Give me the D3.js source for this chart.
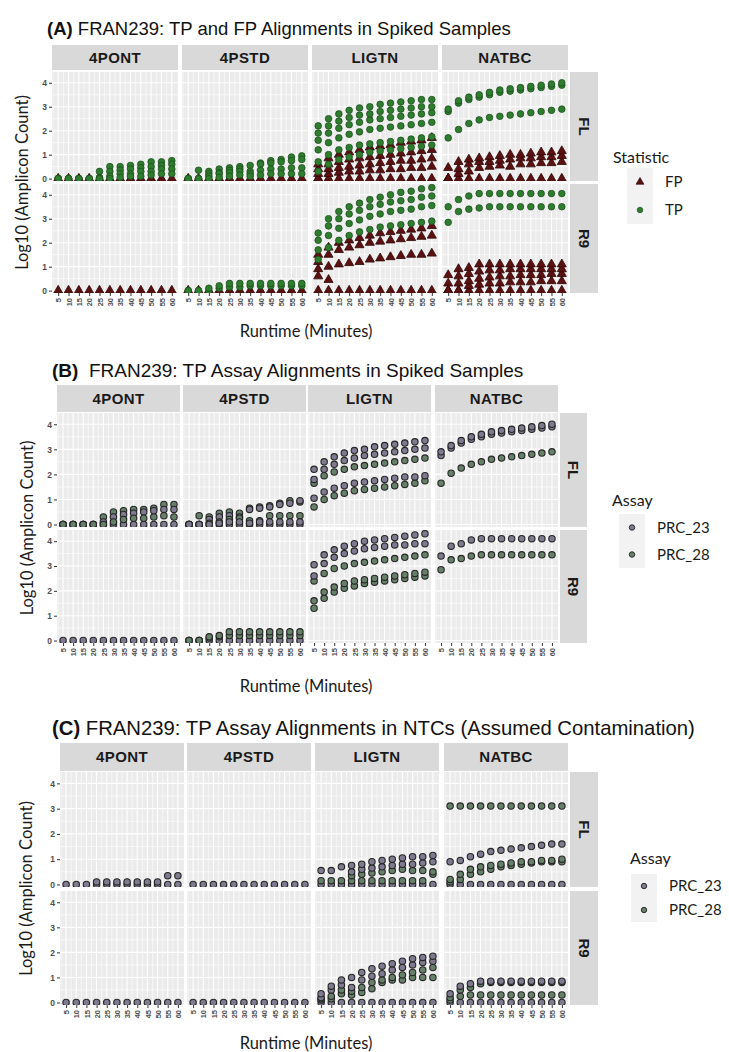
<!DOCTYPE html>
<html>
<head>
<meta charset="utf-8">
<script src="https://cdn.jsdelivr.net/npm/d3@7"></script>
<style>
  body { margin: 0; background: #fff; }
  svg { display: block; }
</style>
</head>
<body>
<svg id="chart"></svg>
<script>
const width = 729;
const height = 1052;

// DATA
const runtimes = [5, 10, 15, 20, 25, 30, 35, 40, 45, 50, 55, 60];
const sites = ['4PONT', '4PSTD', 'LIGTN', 'NATBC'];
const platforms = ['FL', 'R9'];
const yTicks = [0, 1, 2, 3, 4];
const statistics = ['FP', 'TP'];
const assays = ['PRC_23', 'PRC_28'];

// [site, platform, group, log10 count at each runtime]
const seriesA = [
  ['4PONT', 'FL', 'FP', [0, 0, 0, 0, 0, 0, 0, 0, 0, 0, 0, 0]],
  ['4PONT', 'FL', 'TP', [0, 0, 0, 0, 0.3, 0.5, 0.5, 0.55, 0.6, 0.7, 0.7, 0.75]],
  ['4PONT', 'FL', 'TP', [0, 0, 0, 0, 0.05, 0.3, 0.35, 0.4, 0.45, 0.5, 0.55, 0.6]],
  ['4PONT', 'FL', 'TP', [0, 0, 0, 0, 0, 0.1, 0.2, 0.2, 0.3, 0.3, 0.4, 0.4]],
  ['4PONT', 'FL', 'TP', [0, 0, 0, 0, 0, 0, 0.05, 0.1, 0.1, 0.15, 0.2, 0.2]],
  ['4PSTD', 'FL', 'FP', [0, 0, 0, 0, 0, 0, 0, 0, 0, 0, 0, 0]],
  ['4PSTD', 'FL', 'TP', [0, 0.35, 0.3, 0.4, 0.45, 0.5, 0.55, 0.65, 0.75, 0.8, 0.9, 0.95]],
  ['4PSTD', 'FL', 'TP', [0, 0, 0.2, 0.25, 0.35, 0.4, 0.3, 0.6, 0.65, 0.7, 0.75, 0.8]],
  ['4PSTD', 'FL', 'TP', [0, 0, 0.1, 0.2, 0.25, 0.3, 0.2, 0.35, 0.4, 0.4, 0.45, 0.45]],
  ['4PSTD', 'FL', 'TP', [0, 0, 0, 0.05, 0.1, 0.15, 0.1, 0.15, 0.2, 0.2, 0.2, 0.2]],
  ['LIGTN', 'FL', 'FP', [0, 0, 0, 0, 0, 0, 0, 0, 0, 0, 0, 0]],
  ['LIGTN', 'FL', 'FP', [0, 0.2, 0.25, 0.3, 0.3, 0.35, 0.35, 0.4, 0.4, 0.45, 0.45, 0.5]],
  ['LIGTN', 'FL', 'FP', [0.2, 0.4, 0.45, 0.5, 0.55, 0.6, 0.65, 0.7, 0.75, 0.75, 0.8, 0.85]],
  ['LIGTN', 'FL', 'FP', [0.4, 0.6, 0.7, 0.8, 0.85, 0.9, 0.95, 1.0, 1.05, 1.1, 1.15, 1.2]],
  ['LIGTN', 'FL', 'FP', [0.6, 0.85, 1.0, 1.1, 1.2, 1.3, 1.35, 1.4, 1.5, 1.55, 1.6, 1.7]],
  ['LIGTN', 'FL', 'TP', [0.3, 0.6, 0.8, 0.9, 1.0, 1.1, 1.15, 1.2, 1.25, 1.3, 1.35, 1.4]],
  ['LIGTN', 'FL', 'TP', [0.7, 1.0, 1.2, 1.3, 1.4, 1.45, 1.5, 1.55, 1.6, 1.65, 1.7, 1.75]],
  ['LIGTN', 'FL', 'TP', [1.2, 1.5, 1.7, 1.85, 1.95, 2.05, 2.1, 2.15, 2.2, 2.25, 2.3, 2.35]],
  ['LIGTN', 'FL', 'TP', [1.6, 1.9, 2.1, 2.25, 2.35, 2.45, 2.5, 2.55, 2.6, 2.65, 2.7, 2.75]],
  ['LIGTN', 'FL', 'TP', [1.9, 2.2, 2.4, 2.55, 2.65, 2.7, 2.8, 2.85, 2.9, 2.95, 3.0, 3.0]],
  ['LIGTN', 'FL', 'TP', [2.2, 2.5, 2.7, 2.85, 2.95, 3.0, 3.1, 3.15, 3.2, 3.25, 3.3, 3.3]],
  ['NATBC', 'FL', 'FP', [0, 0, 0, 0, 0, 0, 0, 0, 0, 0, 0, 0]],
  ['NATBC', 'FL', 'FP', [0, 0.2, 0.3, 0.45, 0.5, 0.55, 0.5, 0.6, 0.6, 0.65, 0.65, 0.7]],
  ['NATBC', 'FL', 'FP', [0, 0.4, 0.6, 0.7, 0.7, 0.75, 0.8, 0.85, 0.85, 0.9, 0.9, 0.95]],
  ['NATBC', 'FL', 'FP', [0.45, 0.7, 0.8, 0.85, 0.9, 0.95, 1.0, 1.0, 1.05, 1.1, 1.1, 1.15]],
  ['NATBC', 'FL', 'TP', [1.7, 2.05, 2.3, 2.45, 2.55, 2.6, 2.65, 2.7, 2.75, 2.8, 2.85, 2.9]],
  ['NATBC', 'FL', 'TP', [2.8, 3.15, 3.3, 3.4, 3.5, 3.6, 3.65, 3.7, 3.75, 3.8, 3.85, 3.9]],
  ['NATBC', 'FL', 'TP', [2.9, 3.25, 3.4, 3.5, 3.6, 3.7, 3.75, 3.8, 3.85, 3.9, 3.95, 4.0]],
  ['4PONT', 'R9', 'FP', [0, 0, 0, 0, 0, 0, 0, 0, 0, 0, 0, 0]],
  ['4PSTD', 'R9', 'FP', [0, 0, 0, 0, 0, 0, 0, 0, 0, 0, 0, 0]],
  ['4PSTD', 'R9', 'TP', [0, 0, 0, 0.1, 0.15, 0.15, 0.2, 0.2, 0.2, 0.2, 0.2, 0.2]],
  ['4PSTD', 'R9', 'TP', [0, 0, 0.1, 0.2, 0.3, 0.3, 0.3, 0.3, 0.3, 0.3, 0.3, 0.3]],
  ['LIGTN', 'R9', 'FP', [0, 0, 0, 0, 0, 0, 0, 0, 0, 0, 0, 0]],
  ['LIGTN', 'R9', 'FP', [0.6, 0.45, null, null, null, null, null, null, null, null, null, null]],
  ['LIGTN', 'R9', 'FP', [0.9, 1.0, 1.1, 1.15, 1.2, 1.3, 1.35, 1.4, 1.45, 1.5, 1.5, 1.55]],
  ['LIGTN', 'R9', 'FP', [1.2, 1.5, 1.7, 1.8, 1.9, 2.0, 2.05, 2.1, 2.15, 2.2, 2.25, 2.3]],
  ['LIGTN', 'R9', 'FP', [1.5, 1.8, 2.0, 2.1, 2.2, 2.3, 2.4, 2.45, 2.5, 2.55, 2.6, 2.7]],
  ['LIGTN', 'R9', 'TP', [1.3, 1.8, 2.1, 2.3, 2.45, 2.55, 2.65, 2.7, 2.75, 2.8, 2.85, 2.9]],
  ['LIGTN', 'R9', 'TP', [1.7, 2.3, 2.6, 2.8, 2.95, 3.1, 3.2, 3.3, 3.35, 3.4, 3.5, 3.55]],
  ['LIGTN', 'R9', 'TP', [2.1, 2.7, 3.0, 3.2, 3.35, 3.5, 3.6, 3.7, 3.75, 3.8, 3.9, 3.95]],
  ['LIGTN', 'R9', 'TP', [2.4, 3.0, 3.3, 3.5, 3.65, 3.8, 3.9, 4.0, 4.1, 4.15, 4.25, 4.3]],
  ['NATBC', 'R9', 'FP', [0, 0, 0, 0, 0, 0, 0, 0, 0, 0, 0, 0]],
  ['NATBC', 'R9', 'FP', [0, 0, 0.2, 0.25, 0.3, 0.3, 0.35, 0.35, 0.35, 0.4, 0.4, 0.4]],
  ['NATBC', 'R9', 'FP', [0, 0.3, 0.4, 0.5, 0.55, 0.6, 0.6, 0.65, 0.65, 0.65, 0.7, 0.7]],
  ['NATBC', 'R9', 'FP', [0.3, 0.6, 0.7, 0.8, 0.85, 0.85, 0.9, 0.9, 0.9, 0.9, 0.9, 0.9]],
  ['NATBC', 'R9', 'FP', [0.65, 0.9, 0.95, 1.1, 1.1, 1.1, 1.1, 1.1, 1.1, 1.1, 1.1, 1.1]],
  ['NATBC', 'R9', 'TP', [2.85, 3.3, 3.4, 3.45, 3.5, 3.5, 3.5, 3.5, 3.5, 3.5, 3.5, 3.5]],
  ['NATBC', 'R9', 'TP', [3.5, 3.8, 3.95, 4.05, 4.05, 4.05, 4.05, 4.05, 4.05, 4.05, 4.05, 4.05]]
];

const seriesB = [
  ['4PONT', 'FL', 'PRC_23', [0, 0, 0, 0, 0, 0, 0, 0, 0, 0, 0, 0]],
  ['4PONT', 'FL', 'PRC_28', [0, 0, 0, 0, 0.3, 0.5, 0.55, 0.6, 0.6, 0.65, 0.8, 0.8]],
  ['4PONT', 'FL', 'PRC_23', [0, 0, 0, 0, 0.1, 0.3, 0.4, 0.45, 0.5, 0.55, 0.6, 0.6]],
  ['4PONT', 'FL', 'PRC_28', [0, 0, 0, 0, 0, 0.1, 0.2, 0.25, 0.25, 0.3, 0.35, 0.3]],
  ['4PSTD', 'FL', 'PRC_23', [0, 0, 0, 0, 0, 0, 0, 0, 0, 0, 0, 0]],
  ['4PSTD', 'FL', 'PRC_28', [0, 0.35, 0.3, 0.45, 0.5, 0.45, 0.65, 0.7, 0.75, 0.85, 0.95, 0.9]],
  ['4PSTD', 'FL', 'PRC_23', [0, 0, 0.2, 0.3, 0.35, 0.3, 0.6, 0.65, 0.7, 0.8, 0.85, 0.95]],
  ['4PSTD', 'FL', 'PRC_28', [0, 0, 0.05, 0.1, 0.2, 0.25, 0.15, 0.15, 0.35, 0.35, 0.35, 0.35]],
  ['4PSTD', 'FL', 'PRC_23', [0, 0, 0, 0.05, 0.1, 0.1, 0.05, 0.1, 0.1, 0.1, 0.1, 0.1]],
  ['LIGTN', 'FL', 'PRC_28', [0.7, 1.0, 1.15, 1.25, 1.35, 1.4, 1.45, 1.5, 1.55, 1.6, 1.65, 1.75]],
  ['LIGTN', 'FL', 'PRC_23', [1.05, 1.3, 1.45, 1.55, 1.65, 1.7, 1.75, 1.8, 1.85, 1.9, 1.9, 1.95]],
  ['LIGTN', 'FL', 'PRC_28', [1.65, 1.95, 2.1, 2.2, 2.3, 2.35, 2.4, 2.45, 2.5, 2.55, 2.6, 2.65]],
  ['LIGTN', 'FL', 'PRC_23', [1.8, 2.2, 2.4, 2.55, 2.65, 2.75, 2.8, 2.85, 2.9, 2.95, 3.0, 3.05]],
  ['LIGTN', 'FL', 'PRC_23', [2.2, 2.5, 2.7, 2.85, 2.95, 3.0, 3.1, 3.15, 3.2, 3.25, 3.3, 3.35]],
  ['NATBC', 'FL', 'PRC_28', [1.65, 2.05, 2.25, 2.4, 2.5, 2.6, 2.65, 2.7, 2.75, 2.8, 2.85, 2.9]],
  ['NATBC', 'FL', 'PRC_23', [2.75, 3.05, 3.25, 3.4, 3.5, 3.6, 3.65, 3.7, 3.75, 3.8, 3.85, 3.9]],
  ['NATBC', 'FL', 'PRC_23', [2.9, 3.15, 3.35, 3.5, 3.6, 3.7, 3.75, 3.8, 3.85, 3.9, 3.95, 4.0]],
  ['4PONT', 'R9', 'PRC_23', [0, 0, 0, 0, 0, 0, 0, 0, 0, 0, 0, 0]],
  ['4PSTD', 'R9', 'PRC_23', [0, 0, 0, 0, 0, 0, 0, 0, 0, 0, 0, 0]],
  ['4PSTD', 'R9', 'PRC_28', [0, 0, 0.1, 0.15, 0.2, 0.2, 0.2, 0.2, 0.2, 0.2, 0.2, 0.2]],
  ['4PSTD', 'R9', 'PRC_28', [0, 0, 0.15, 0.2, 0.35, 0.35, 0.35, 0.35, 0.35, 0.35, 0.35, 0.35]],
  ['LIGTN', 'R9', 'PRC_28', [1.3, 1.7, 1.95, 2.1, 2.2, 2.3, 2.35, 2.4, 2.45, 2.5, 2.55, 2.6]],
  ['LIGTN', 'R9', 'PRC_28', [1.6, 1.95, 2.15, 2.3, 2.4, 2.45, 2.5, 2.55, 2.6, 2.65, 2.7, 2.75]],
  ['LIGTN', 'R9', 'PRC_28', [2.4, 2.7, 2.9, 3.0, 3.1, 3.15, 3.2, 3.25, 3.3, 3.35, 3.4, 3.45]],
  ['LIGTN', 'R9', 'PRC_23', [2.6, 3.1, 3.35, 3.5, 3.6, 3.7, 3.75, 3.8, 3.85, 3.85, 3.9, 3.9]],
  ['LIGTN', 'R9', 'PRC_23', [3.05, 3.45, 3.65, 3.8, 3.9, 4.0, 4.05, 4.1, 4.15, 4.2, 4.25, 4.3]],
  ['NATBC', 'R9', 'PRC_28', [2.85, 3.25, 3.3, 3.4, 3.45, 3.45, 3.45, 3.45, 3.45, 3.45, 3.45, 3.45]],
  ['NATBC', 'R9', 'PRC_23', [3.4, 3.8, 3.9, 4.05, 4.1, 4.1, 4.1, 4.1, 4.1, 4.1, 4.1, 4.1]]
];

const seriesC = [
  ['4PONT', 'FL', 'PRC_23', [0, 0, 0, 0, 0, 0, 0, 0, 0, 0, 0, 0]],
  ['4PONT', 'FL', 'PRC_23', [null, null, null, 0.1, 0.1, 0.1, 0.1, 0.1, 0.1, 0.1, 0.35, 0.35]],
  ['4PSTD', 'FL', 'PRC_23', [0, 0, 0, 0, 0, 0, 0, 0, 0, 0, 0, 0]],
  ['LIGTN', 'FL', 'PRC_23', [0, 0, 0, 0, 0, 0, 0, 0, 0, 0, 0, 0]],
  ['LIGTN', 'FL', 'PRC_28', [0.15, 0.15, 0.15, 0.15, 0.15, 0.15, 0.15, 0.15, 0.15, 0.15, 0.15, 0.4]],
  ['LIGTN', 'FL', 'PRC_28', [null, null, null, 0.35, 0.4, 0.45, 0.5, 0.55, 0.6, 0.55, 0.55, 0.5]],
  ['LIGTN', 'FL', 'PRC_23', [null, null, null, 0.5, 0.6, 0.65, 0.7, 0.75, 0.8, 0.8, 0.85, 0.9]],
  ['LIGTN', 'FL', 'PRC_23', [0.55, 0.55, 0.7, 0.75, 0.8, 0.9, 0.95, 1.0, 1.05, 1.1, 1.1, 1.15]],
  ['NATBC', 'FL', 'PRC_23', [0, 0, 0, 0, 0, 0, 0, 0, 0, 0, 0, 0]],
  ['NATBC', 'FL', 'PRC_28', [0.1, 0.2, 0.4, 0.5, 0.6, 0.7, 0.75, 0.8, 0.85, 0.9, 0.9, 0.9]],
  ['NATBC', 'FL', 'PRC_28', [0.2, 0.4, 0.6, 0.7, 0.75, 0.8, 0.85, 0.9, 0.9, 0.95, 0.95, 1.0]],
  ['NATBC', 'FL', 'PRC_23', [0.9, 0.95, 1.1, 1.2, 1.3, 1.35, 1.4, 1.45, 1.5, 1.55, 1.6, 1.6]],
  ['NATBC', 'FL', 'PRC_28', [3.1, 3.1, 3.1, 3.1, 3.1, 3.1, 3.1, 3.1, 3.1, 3.1, 3.1, 3.1]],
  ['4PONT', 'R9', 'PRC_23', [0, 0, 0, 0, 0, 0, 0, 0, 0, 0, 0, 0]],
  ['4PSTD', 'R9', 'PRC_23', [0, 0, 0, 0, 0, 0, 0, 0, 0, 0, 0, 0]],
  ['LIGTN', 'R9', 'PRC_23', [0, 0, 0, 0, 0, 0, 0, 0, 0, 0, 0, 0]],
  ['LIGTN', 'R9', 'PRC_28', [0.1, 0.15, 0.35, 0.3, 0.4, 0.55, 0.8, 0.9, 0.9, 1.0, 1.0, 1.0]],
  ['LIGTN', 'R9', 'PRC_28', [0.15, 0.25, 0.5, 0.45, 0.6, 0.8, 0.9, 1.0, 1.1, 1.2, 1.3, 1.4]],
  ['LIGTN', 'R9', 'PRC_23', [0.2, 0.5, 0.7, 0.6, 0.9, 1.05, 1.15, 1.3, 1.4, 1.5, 1.6, 1.65]],
  ['LIGTN', 'R9', 'PRC_23', [0.35, 0.65, 0.9, 1.0, 1.2, 1.35, 1.45, 1.55, 1.65, 1.75, 1.8, 1.85]],
  ['NATBC', 'R9', 'PRC_23', [0, 0, 0, 0, 0, 0, 0, 0, 0, 0, 0, 0]],
  ['NATBC', 'R9', 'PRC_28', [0.1, 0.25, 0.3, 0.3, 0.3, 0.3, 0.3, 0.3, 0.3, 0.3, 0.3, 0.3]],
  ['NATBC', 'R9', 'PRC_28', [0.2, 0.5, 0.6, 0.75, 0.8, 0.8, 0.8, 0.8, 0.8, 0.8, 0.8, 0.8]],
  ['NATBC', 'R9', 'PRC_23', [0.35, 0.65, 0.75, 0.85, 0.85, 0.85, 0.85, 0.85, 0.85, 0.85, 0.85, 0.85]]
];

// LAYOUT per block
const blocks = [
  { letter: '(A)', title: ' FRAN239: TP and FP Alignments in Spiked Samples', titleX: 47, titleY: 35, titleSize: 18.5,
    stripY: 45, stripH: 25, rows: [[72, 181], [184, 293]], colX: [52, 182, 312, 442], colW: 126,
    rStripX: 570, rStripW: 28, yTitleX: 22, xTitleY: 337,
    legend: { title: 'Statistic', x: 613, titleY: 163, keyX: 627, keyY: 168, keyH: 28, groups: statistics },
    series: seriesA, kind: 'stat' },
  { letter: '(B)', title: '\u00a0 FRAN239: TP Assay Alignments in Spiked Samples', titleX: 52, titleY: 377, titleSize: 19,
    stripY: 385, stripH: 27, rows: [[413, 527], [530, 643]], colX: [57, 183, 308, 435], colW: 123,
    rStripX: 560, rStripW: 27, yTitleX: 27, xTitleY: 692,
    legend: { title: 'Assay', x: 612, titleY: 506, keyX: 619, keyY: 514, keyH: 27, groups: assays },
    series: seriesB, kind: 'assay' },
  { letter: '(C)', title: ' FRAN239: TP Assay Alignments in NTCs (Assumed Contamination)', titleX: 52, titleY: 735, titleSize: 20.3,
    stripY: 743, stripH: 28, rows: [[772, 887], [891, 1005]], colX: [60, 187, 315, 444], colW: 124,
    rStripX: 570, rStripW: 28, yTitleX: 26, xTitleY: 1049,
    legend: { title: 'Assay', x: 630, titleY: 864, keyX: 631, keyY: 874, keyH: 24, groups: assays },
    series: seriesC, kind: 'assay' }
];

const yDomain = [-0.1, 4.45];
const statFill = { FP: '#5b1111', TP: '#2f7d2f' };
const statStroke = { FP: '#2e0606', TP: '#1d4f1d' };
const assayFill = { PRC_23: '#7f7a90', PRC_28: '#66806a' };
const labelFont = 'Lato, "Open Sans", sans-serif';

const svg = d3.select('#chart')
  .attr('width', width)
  .attr('height', height)
  .style('font-family', '"Liberation Sans", Arial, sans-serif');

const triangle = d3.symbol().type(d3.symbolTriangle).size(36);

function drawPoint(sel, group, kind) {
  if (kind === 'stat' && group === 'FP') {
    sel.append('path')
      .attr('d', triangle)
      .attr('fill', statFill.FP)
      .attr('stroke', statStroke.FP)
      .attr('stroke-width', 0.8);
  } else if (kind === 'stat') {
    sel.append('circle')
      .attr('r', 3.3)
      .attr('fill', statFill.TP)
      .attr('stroke', statStroke.TP)
      .attr('stroke-width', 0.8);
  } else {
    sel.append('circle')
      .attr('r', 3.2)
      .attr('fill', assayFill[group])
      .attr('stroke', '#262626')
      .attr('stroke-width', 1.1);
  }
}

blocks.forEach((b, bi) => {
  const g = svg.append('g');

  // TITLE
  const t = g.append('text')
    .attr('x', b.titleX)
    .attr('y', b.titleY)
    .style('font-size', b.titleSize + 'px')
    .style('fill', '#111');
  t.append('tspan').style('font-weight', 'bold').text(b.letter);
  t.append('tspan').text(b.title);

  const x = d3.scalePoint().domain(runtimes).padding(0.6);

  sites.forEach((site, ci) => {
    const x0 = b.colX[ci];
    x.range([x0, x0 + b.colW]);
    const step = x.step();

    // column strip
    g.append('rect')
      .attr('x', x0).attr('y', b.stripY)
      .attr('width', b.colW).attr('height', b.stripH)
      .attr('fill', '#d9d9d9');
    g.append('text')
      .attr('x', x0 + b.colW / 2)
      .attr('y', b.stripY + b.stripH / 2)
      .attr('dy', '0.36em')
      .style('text-anchor', 'middle')
      .style('font-weight', 'bold')
      .style('font-size', '15px')
      .style('letter-spacing', '0.4px')
      .style('fill', '#1a1a1a')
      .text(site);

    platforms.forEach((pf, ri) => {
      const [y0, y1] = b.rows[ri];
      const y = d3.scaleLinear().domain(yDomain).range([y1, y0]);
      const clipId = `clip-${bi}-${ci}-${ri}`;

      g.append('clipPath').attr('id', clipId)
        .append('rect')
        .attr('x', x0).attr('y', y0)
        .attr('width', b.colW).attr('height', y1 - y0);

      const p = g.append('g');
      p.append('rect')
        .attr('x', x0).attr('y', y0)
        .attr('width', b.colW).attr('height', y1 - y0)
        .attr('fill', '#ebebeb');

      // GRIDS
      const minorY = [0.5, 1.5, 2.5, 3.5];
      p.selectAll(null).data(minorY).enter().append('line')
        .attr('x1', x0).attr('x2', x0 + b.colW)
        .attr('y1', d => y(d)).attr('y2', d => y(d))
        .attr('stroke', '#fff').attr('stroke-width', 0.6);
      p.selectAll(null).data(yTicks).enter().append('line')
        .attr('x1', x0).attr('x2', x0 + b.colW)
        .attr('y1', d => y(d)).attr('y2', d => y(d))
        .attr('stroke', '#fff').attr('stroke-width', 1.1);
      p.selectAll(null).data(runtimes).enter().append('line')
        .attr('x1', d => x(d) - step / 2).attr('x2', d => x(d) - step / 2)
        .attr('y1', y0).attr('y2', y1)
        .attr('stroke', '#fff').attr('stroke-width', 0.6);
      p.selectAll(null).data(runtimes).enter().append('line')
        .attr('x1', d => x(d)).attr('x2', d => x(d))
        .attr('y1', y0).attr('y2', y1)
        .attr('stroke', '#fff').attr('stroke-width', 1.1);

      // POINTS
      const pts = [];
      b.series.filter(s => s[0] === site && s[1] === pf).forEach(s => {
        s[3].forEach((v, i) => {
          if (v !== null) pts.push({ t: runtimes[i], v: v, group: s[2] });
        });
      });
      const pg = p.append('g').attr('clip-path', `url(#${clipId})`);
      pg.selectAll('g.pt')
        .data(pts)
        .enter()
        .append('g')
          .attr('class', 'pt')
          .attr('transform', d => `translate(${x(d.t)},${y(d.v)})`)
          .each(function (d) { drawPoint(d3.select(this), d.group, b.kind); });

      // Y AXIS
      if (ci === 0) {
        const ya = g.append('g')
          .attr('transform', `translate(${x0},0)`)
          .call(d3.axisLeft(y).tickValues(yTicks).tickSize(3).tickPadding(2).tickFormat(d3.format('d')));
        ya.select('.domain').remove();
        ya.selectAll('line').attr('stroke', '#333');
        ya.selectAll('text').style('font-size', '8.5px').style('font-weight', 'bold')
          .style('fill', '#4d4d4d').style('font-family', '"Liberation Sans", Arial, sans-serif');
      }

      // X AXIS
      if (ri === 1) {
        const xa = g.append('g')
          .attr('transform', `translate(0,${y1})`)
          .call(d3.axisBottom(x).tickSize(3).tickPadding(2));
        xa.select('.domain').remove();
        xa.selectAll('line').attr('stroke', '#333');
        xa.selectAll('text')
          .attr('transform', 'rotate(-90)')
          .attr('x', -5).attr('y', 0).attr('dy', '0.35em')
          .style('text-anchor', 'end')
          .style('font-size', '7.5px').style('font-weight', 'bold')
          .style('fill', '#4d4d4d').style('font-family', '"Liberation Sans", Arial, sans-serif');
      }

      // row strip
      if (ci === sites.length - 1) {
        g.append('rect')
          .attr('x', b.rStripX).attr('y', y0)
          .attr('width', b.rStripW).attr('height', y1 - y0)
          .attr('fill', '#d9d9d9');
        g.append('text')
          .attr('transform', `translate(${b.rStripX + b.rStripW / 2},${(y0 + y1) / 2}) rotate(90)`)
          .attr('dy', '0.36em')
          .style('text-anchor', 'middle')
          .style('font-weight', 'bold')
          .style('font-size', '15px')
          .style('fill', '#1a1a1a')
          .text(pf);
      }
    });
  });

  // AXIS TITLES
  const midY = (b.rows[0][0] + b.rows[1][1]) / 2;
  g.append('text')
    .attr('transform', `translate(${b.yTitleX},${midY}) rotate(-90)`)
    .attr('dy', '0.36em')
    .style('text-anchor', 'middle')
    .style('font-family', labelFont)
    .style('font-size', '16.5px')
    .style('fill', '#1a1a1a')
    .text('Log10 (Amplicon Count)');
  g.append('text')
    .attr('x', 306)
    .attr('y', b.xTitleY)
    .style('text-anchor', 'middle')
    .style('font-family', labelFont)
    .style('font-size', '16.5px')
    .style('fill', '#1a1a1a')
    .text('Runtime (Minutes)');

  // LEGEND
  const L = b.legend;
  g.append('text')
    .attr('x', L.x).attr('y', L.titleY)
    .style('font-family', labelFont)
    .style('font-size', '16px')
    .style('fill', '#1a1a1a')
    .text(L.title);
  L.groups.forEach((grp, i) => {
    const ky = L.keyY + i * L.keyH;
    g.append('rect')
      .attr('x', L.keyX).attr('y', ky)
      .attr('width', 26).attr('height', L.keyH)
      .attr('fill', '#f2f2f2');
    const k = g.append('g').attr('transform', `translate(${L.keyX + 13},${ky + L.keyH / 2})`);
    drawPoint(k, grp, b.kind);
    k.select('*').attr('transform', 'scale(0.85)');
    g.append('text')
      .attr('x', L.keyX + 38).attr('y', ky + L.keyH / 2)
      .attr('dy', '0.36em')
      .style('font-family', labelFont)
      .style('font-size', '15px')
      .style('fill', '#1a1a1a')
      .text(grp);
  });
});
</script>
</body>
</html>
